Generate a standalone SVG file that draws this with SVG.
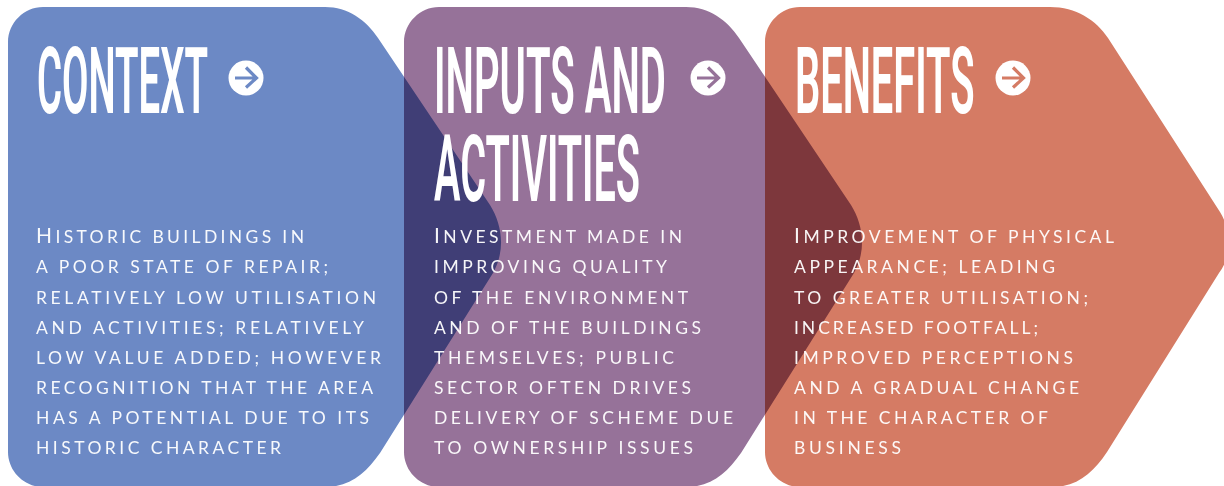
<svg xmlns="http://www.w3.org/2000/svg" width="1224" height="486" viewBox="0 0 1224 486">
<style>
.s{mix-blend-mode:multiply}
.t{font-family:Roboto,"Liberation Sans",sans-serif;font-weight:600;font-size:93px;fill:#fff}
.b{font-family:Lato,"Open Sans",sans-serif;font-size:17.5px;fill:#fff;fill-opacity:.95}
.c{font-size:21px}
.a{fill:none;stroke-width:3.2}
</style>
<rect width="1224" height="486" fill="#fff"/>
<g id="context">
<path class="s" fill="#6c89c5" d="M43 7H325C348 7 366 20 378 38L490 205C502 224 506 250 493 273L380 453C366 473 350 487 325 487H43C24 487 8 471 8 452V42C8 23 24 7 43 7Z"/>
</g>
<g id="inputs">
<path class="s" fill="#967299" d="M439 7H686C709 7 727 20 739 38L851 205C863 224 867 250 854 273L741 453C727 473 711 487 686 487H439C420 487 404 471 404 452V42C404 23 420 7 439 7Z"/>
</g>
<g id="benefits">
<path class="s" fill="#d57b64" d="M800 7H1050C1076 7 1096 20 1108 38L1220 212C1232 232 1232 256 1219 273L1107 452C1093 473 1077 487 1052 487H800C781 487 765 471 765 452V42C765 23 781 7 800 7Z"/>
</g>
<g id="context-text">
<text class="t" transform="translate(37 113) scale(.412 1)">CONTEXT</text>
<circle cx="246" cy="78" r="17.5" fill="#fff"/>
<path class="a" stroke="#6c89c5" d="M235 78H256M246 67.500L256.500 78L246 87.500"/>
<text class="b" y="243"><tspan x="36" textLength="268"><tspan class="c">H</tspan>ISTORIC BUILDINGS IN</tspan></text>
<text class="b" x="36" y="273" textLength="292">A POOR STATE OF REPAIR;</text>
<text class="b" x="36" y="304" textLength="340">RELATIVELY LOW UTILISATION</text>
<text class="b" x="36" y="334" textLength="328">AND ACTIVITIES; RELATIVELY</text>
<text class="b" x="36" y="364" textLength="345">LOW VALUE ADDED; HOWEVER</text>
<text class="b" x="36" y="394" textLength="337">RECOGNITION THAT THE AREA</text>
<text class="b" x="36" y="424" textLength="333">HAS A POTENTIAL DUE TO ITS</text>
<text class="b" x="36" y="454" textLength="245">HISTORIC CHARACTER</text>
</g>
<g id="inputs-text">
<text class="t" transform="translate(434 113) scale(.431 1)">INPUTS AND</text>
<text class="t" transform="translate(434 201) scale(.426 1)">ACTIVITIES</text>
<circle cx="708" cy="78" r="17.5" fill="#fff"/>
<path class="a" stroke="#967299" d="M697 78H718M708 67.500L718.500 78L708 87.500"/>
<text class="b" y="243"><tspan x="434" textLength="248"><tspan class="c">I</tspan>NVESTMENT MADE IN</tspan></text>
<text class="b" x="434" y="273" textLength="233">IMPROVING QUALITY</text>
<text class="b" x="434" y="304" textLength="254">OF THE ENVIRONMENT</text>
<text class="b" x="434" y="334" textLength="267">AND OF THE BUILDINGS</text>
<text class="b" x="434" y="364" textLength="240">THEMSELVES; PUBLIC</text>
<text class="b" x="434" y="394" textLength="257">SECTOR OFTEN DRIVES</text>
<text class="b" x="434" y="424" textLength="299">DELIVERY OF SCHEME DUE</text>
<text class="b" x="434" y="454" textLength="259">TO OWNERSHIP ISSUES</text>
</g>
<g id="benefits-text">
<text class="t" transform="translate(795 113) scale(.428 1)">BENEFITS</text>
<circle cx="1013" cy="78" r="17.5" fill="#fff"/>
<path class="a" stroke="#d57b64" d="M1002 78H1023M1013 67.500L1023.500 78L1013 87.500"/>
<text class="b" y="243"><tspan x="794" textLength="320"><tspan class="c">I</tspan>MPROVEMENT OF PHYSICAL</tspan></text>
<text class="b" x="794" y="273" textLength="261">APPEARANCE; LEADING</text>
<text class="b" x="794" y="304" textLength="294">TO GREATER UTILISATION;</text>
<text class="b" x="794" y="334" textLength="244">INCREASED FOOTFALL;</text>
<text class="b" x="794" y="364" textLength="279">IMPROVED PERCEPTIONS</text>
<text class="b" x="794" y="394" textLength="285">AND A GRADUAL CHANGE</text>
<text class="b" x="794" y="424" textLength="254">IN THE CHARACTER OF</text>
<text class="b" x="794" y="454" textLength="107">BUSINESS</text>
</g>
</svg>
